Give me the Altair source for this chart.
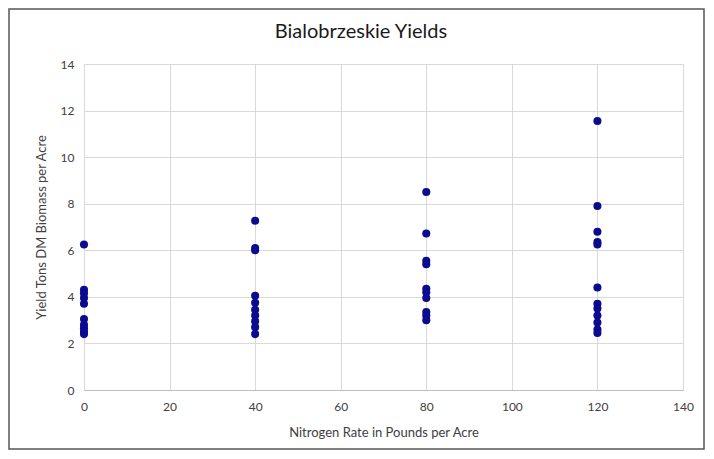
import altair as alt
import pandas as pd

title_text = "Bialobrzeskie Yields"
nitrogen_0 = [6.25, 4.3, 4.15, 3.95, 3.7, 3.05, 2.8, 2.65, 2.5, 2.4]
nitrogen_40 = [7.27, 6.1, 6.0, 4.05, 3.75, 3.45, 3.2, 2.95, 2.7, 2.4]
nitrogen_80 = [8.5, 6.72, 5.55, 5.4, 4.35, 4.2, 3.95, 3.35, 3.2, 3.0]
nitrogen_120 = [11.55, 7.9, 6.8, 6.35, 6.25, 4.4, 3.7, 3.5, 3.2, 2.9, 2.6, 2.45]

rates = [0, 40, 80, 120]
series = [nitrogen_0, nitrogen_40, nitrogen_80, nitrogen_120]

rows = []
for r, vals in zip(rates, series):
    for v in vals:
        rows.append({"rate": r, "yield": v})
df = pd.DataFrame(rows)

FONT = "Lato"
W, H = 599, 326
PAD_L, PAD_T, PAD_R, PAD_B = 76, 56, 22, 60

points = alt.Chart(df).mark_circle(size=65, color="#0B0B8F", opacity=1).encode(
    x=alt.X("rate:Q",
            scale=alt.Scale(domain=[0, 140], nice=False),
            axis=alt.Axis(values=[0, 20, 40, 60, 80, 100, 120, 140],
                          title="Nitrogen Rate in Pounds per Acre",
                          titleFont=FONT, titleFontSize=13, titleFontWeight="normal",
                          titleColor="#404040", titlePadding=14,
                          labelFont=FONT, labelFontSize=12, labelColor="#404040",
                          labelPadding=11, labelFlush=False,
                          ticks=False, domain=True, domainColor="#bfbfbf",
                          grid=True, gridColor="#d9d9d9")),
    y=alt.Y("yield:Q",
            scale=alt.Scale(domain=[0, 14], nice=False),
            axis=alt.Axis(values=[0, 2, 4, 6, 8, 10, 12, 14],
                          title="Yield Tons DM Biomass per Acre",
                          titleFont=FONT, titleFontSize=13, titleFontWeight="normal",
                          titleColor="#404040", titlePadding=12,
                          labelFont=FONT, labelFontSize=12, labelColor="#404040",
                          labelPadding=10,
                          ticks=False, domain=False,
                          grid=True, gridColor="#d9d9d9")),
)

base_one = alt.Chart(pd.DataFrame({"a": [0]}))

border = base_one.mark_rect(
    fill=None, stroke="#555555", strokeWidth=1.5
).encode(
    x=alt.value(-PAD_L + 1), x2=alt.value(W + PAD_R - 1),
    y=alt.value(-PAD_T + 1), y2=alt.value(H + PAD_B - 1),
)

title = base_one.mark_text(
    font=FONT, fontSize=20, color="#1a1a1a", align="center", baseline="middle"
).encode(
    x=alt.value(277), y=alt.value(-32), text=alt.value(title_text),
)

chart = alt.layer(points, border, title).properties(
    width=W, height=H,
    autosize=alt.AutoSizeParams(type="none"),
    padding={"left": PAD_L, "top": PAD_T, "right": PAD_R, "bottom": PAD_B},
).configure_view(stroke=None).configure(background="white")

chart.save("out.html", embed_options={"renderer": "svg", "actions": False})
